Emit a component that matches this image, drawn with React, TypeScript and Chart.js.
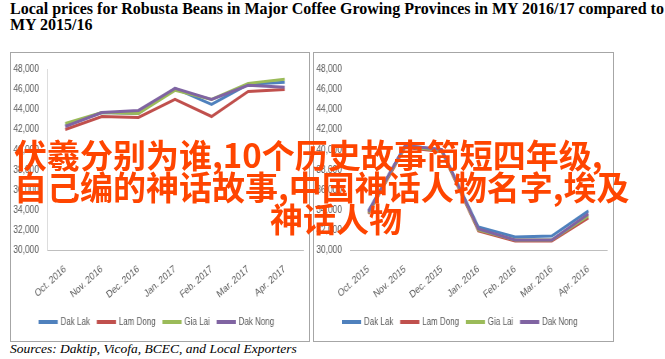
import React, { useEffect, useRef } from "react";
import { Chart, registerables } from "chart.js";

Chart.register(...registerables);

const titleLines = [
  "Local prices for Robusta Beans in Major Coffee Growing Provinces in MY 2016/17 compared to",
  "MY 2015/16",
];
const sourceText = "Sources: Daktip, Vicofa, BCEC, and Local Exporters";
const overlayLines = [
  "伏羲分别为谁,10个历史故事简短四年级,",
  "自己编的神话故事,中国神话人物名字,埃及",
  "神话人物",
];

const seriesNames = ["Dak Lak", "Lam Dong", "Gia Lai", "Dak Nong"];
const seriesColors = ["#4F81BD", "#C0504D", "#9BBB59", "#8064A2"];

const months1617 = ["Oct. 2016", "Nov. 2016", "Dec. 2016", "Jan. 2017", "Feb. 2017", "Mar. 2017", "Apr. 2017"];
const dakLak1617 = [42400, 43700, 43600, 46100, 44500, 46500, 46700];
const lamDong1617 = [42000, 43300, 43200, 45000, 43300, 45800, 46000];
const giaLai1617 = [42600, 43700, 43600, 45900, 45000, 46600, 47000];
const dakNong1617 = [42300, 43700, 43900, 46100, 45000, 46400, 46200];

const months1516 = ["Oct. 2015", "Nov. 2015", "Dec. 2015", "Jan. 2016", "Feb. 2016", "Mar. 2016", "Apr. 2016"];
const dakLak1516 = [33900, 40400, 40000, 32300, 31300, 31400, 33900];
const lamDong1516 = [33600, 40200, 39800, 31900, 30900, 30900, 33200];
const giaLai1516 = [33700, 40300, 39900, 32000, 31000, 31000, 33400];
const dakNong1516 = [33800, 40400, 40000, 32100, 31000, 31000, 33600];

const yMin = 30000;
const yMax = 48000;
const yStep = 2000;

const SQUEEZE = 0.8;
const FONT = "'Liberation Sans', Arial, sans-serif";

function LineBox(props: {
  left: number;
  width: number;
  labels: string[];
  series: number[][];
  showYLine: boolean;
}) {
  const ref = useRef<HTMLCanvasElement | null>(null);
  const innerW = props.width - 2;
  const canvasW = Math.round(innerW / SQUEEZE);
  const canvasH = 288;

  useEffect(() => {
    if (!ref.current) return;
    const chart = new Chart(ref.current, {
      type: "line",
      data: {
        labels: props.labels,
        datasets: props.series.map((vals, i) => ({
          label: seriesNames[i],
          data: vals,
          borderColor: seriesColors[i],
          backgroundColor: seriesColors[i],
          borderWidth: 3,
          pointRadius: 0,
          tension: 0,
          order: 3 - i,
        })),
      },
      options: {
        animation: false,
        responsive: false,
        maintainAspectRatio: false,
        layout: { padding: { top: 14, right: 8, bottom: 4, left: 0 } },
        plugins: {
          tooltip: { enabled: false },
          legend: {
            position: "bottom",
            labels: {
              boxWidth: 21,
              boxHeight: 1,
              padding: 10,
              color: "#595959",
              font: { family: FONT, size: 10 },
              sort: (a: any, b: any) => a.datasetIndex - b.datasetIndex,
            },
          },
        },
        scales: {
          x: {
            offset: true,
            grid: { display: false, drawTicks: false },
            border: { display: true, color: "#bfbfbf", width: 1 },
            ticks: {
              color: "#595959",
              font: { family: FONT, size: 10.5 },
              minRotation: 36,
              maxRotation: 36,
              padding: 13,
              autoSkip: false,
            },
            afterFit: (s: any) => {
              s.height = 57;
            },
          },
          y: {
            min: yMin,
            max: yMax,
            grid: { display: false, drawTicks: false },
            border: { display: props.showYLine, color: "#d9d9d9", width: 1 },
            ticks: {
              stepSize: yStep,
              color: "#595959",
              font: { family: FONT, size: 10.5 },
              padding: 10,
              callback: (v: any) => Number(v).toLocaleString("en-US"),
            },
            afterFit: (s: any) => {
              s.width = 45;
            },
          },
        },
      },
    });
    return () => chart.destroy();
  }, []);

  return (
    <div
      style={{
        position: "absolute",
        left: props.left,
        top: 52,
        width: props.width,
        height: 290,
        boxSizing: "border-box",
        border: "1px solid #a6a6a6",
        overflow: "hidden",
        background: "#fff",
      }}
    >
      <div
        style={{
          position: "absolute",
          left: 0,
          top: 0,
          width: canvasW,
          height: canvasH,
          transform: `scaleX(${SQUEEZE})`,
          transformOrigin: "0 0",
        }}
      >
        <canvas ref={ref} width={canvasW} height={canvasH} style={{ width: canvasW, height: canvasH, display: "block" }} />
      </div>
    </div>
  );
}

export default function App() {
  return (
    <div
      style={{
        position: "fixed",
        left: 0,
        top: 0,
        width: 665,
        height: 359,
        overflow: "hidden",
        background: "#fff",
      }}
    >
      {titleLines.map((t, i) => (
        <div
          key={i}
          style={{
            position: "absolute",
            left: 10,
            top: 0 + i * 16,
            whiteSpace: "nowrap",
            fontFamily: "'Liberation Serif', 'Times New Roman', serif",
            fontWeight: 700,
            fontSize: 16,
            lineHeight: "17px",
            color: "#000",
          }}
        >
          {t}
        </div>
      ))}
      <LineBox left={10} width={300} labels={months1617} series={[dakLak1617, lamDong1617, giaLai1617, dakNong1617]} showYLine={true} />
      <LineBox left={313} width={301} labels={months1516} series={[dakLak1516, lamDong1516, giaLai1516, dakNong1516]} showYLine={false} />
      <div
        style={{
          position: "absolute",
          left: 10,
          top: 341,
          whiteSpace: "nowrap",
          fontFamily: "'Liberation Serif', 'Times New Roman', serif",
          fontStyle: "italic",
          fontSize: 13.5,
          lineHeight: "16px",
          color: "#000",
        }}
      >
        {sourceText}
      </div>
      {overlayLines.map((t, i) => (
        <div
          key={"o" + i}
          style={{
            position: "absolute",
            left: i === 2 ? 270 : 14,
            top: 137 + i * 32,
            whiteSpace: "nowrap",
            fontFamily: "'Noto Sans CJK SC', sans-serif",
            fontWeight: 700,
            fontSize: 33,
            lineHeight: "34px",
            color: "#ff4500",
          }}
        >
          {t}
        </div>
      ))}
    </div>
  );
}
